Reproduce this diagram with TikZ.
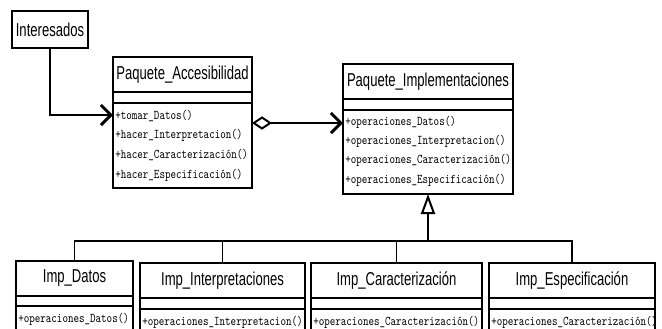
\documentclass[tikz,border=0pt]{standalone}
\usepackage{fontspec}
\usepackage{graphicx}
\setmainfont{Liberation Sans}
\usetikzlibrary{arrows.meta,calc}
\newcommand{\nm}[1]{\scalebox{0.7}[1]{#1}}
\newcommand{\opx}[1]{\scalebox{0.79}[1]{#1}}
\tikzset{
  classbox/.style={draw, line width=1.5pt, fill=white, inner sep=0pt, outer sep=0pt},
  cname/.style={font=\fontsize{14}{16}\selectfont, inner sep=0pt},
  op/.style={font=\ttfamily\fontsize{10}{11}\selectfont, anchor=west, inner sep=0pt},
  sepline/.style={line width=1.5pt},
  assoc/.style={line width=2.2pt, -{Straight Barb[length=7.5pt,width=15pt]}},
  aggr/.style={line width=2.2pt, {Diamond[open,fill=white,length=15pt,width=10pt,line width=1.5pt]}-{Straight Barb[length=7.5pt,width=15pt]}},
  genarrow/.style={line width=1.5pt, -{Triangle[open,fill=white,length=15pt,width=10.5pt,line width=1.5pt]}},
  genline/.style={line width=1.4pt},
}
\newcommand{\umlsep}[2]{\draw[sepline] ($(#1.north west)+(0,#2)$) -- ($(#1.north east)+(0,#2)$);}
\begin{document}
\begin{tikzpicture}[x=0.75pt,y=-0.75pt]
\useasboundingbox (0,0) rectangle (662,329);
\clip (0,0) rectangle (662,329);

% Interesados
\node[classbox, minimum width=57pt, minimum height=27.75pt] (int) at (50,29.5) {};
\node[cname] (intn) at (int.center) {\nm{Interesados}};

% Paquete_Accesibilidad
\node[classbox, minimum width=104.25pt, minimum height=98.25pt] (pa) at (182.5,122.5) {};
\node[cname] (pan) at ($(pa.north)+(0,17.5)$) {\nm{Paquete\_Accesibilidad}};
\umlsep{pa}{35}
\umlsep{pa}{46}
\node[op] (pa1) at ($(pa.north west)+(2,59)$) {\opx{+tomar\_Datos()}};
\node[op] (pa2) at ($(pa.north west)+(2,78)$) {\opx{+hacer\_Interpretacion()}};
\node[op] (pa3) at ($(pa.north west)+(2,98)$) {\opx{+hacer\_Caracterización()}};
\node[op] (pa4) at ($(pa.north west)+(2,118)$) {\opx{+hacer\_Especificación()}};

% Paquete_Implementaciones
\node[classbox, minimum width=127.5pt, minimum height=97.5pt] (pi) at (428,129) {};
\node[cname] (pin) at ($(pi.north)+(0,17.5)$) {\nm{Paquete\_Implementaciones}};
\umlsep{pi}{35}
\umlsep{pi}{46}
\node[op] (pi1) at ($(pi.north west)+(2,58)$) {\opx{+operaciones\_Datos()}};
\node[op] (pi2) at ($(pi.north west)+(2,77)$) {\opx{+operaciones\_Interpretacion()}};
\node[op] (pi3) at ($(pi.north west)+(2,96)$) {\opx{+operaciones\_Caracterización()}};
\node[op] (pi4) at ($(pi.north west)+(2,116)$) {\opx{+operaciones\_Especificación()}};

% Imp_Datos
\node[classbox, minimum width=87.75pt, minimum height=63pt] (id) at (74.5,303) {};
\node[cname] (idn) at ($(id.north)+(0,17.5)$) {\nm{Imp\_Datos}};
\umlsep{id}{35}
\umlsep{id}{45}
\node[op] (id1) at ($(id.north west)+(2,58)$) {\opx{+operaciones\_Datos()}};

% Imp_Interpretaciones
\node[classbox, minimum width=123.75pt, minimum height=61.5pt] (ii) at (222.5,304) {};
\node[cname] (iin) at ($(ii.north)+(0,18)$) {\nm{Imp\_Interpretaciones}};
\umlsep{ii}{35}
\umlsep{ii}{46}
\node[op] (ii1) at ($(ii.north west)+(2,59)$) {\opx{+operaciones\_Interpretacion()}};

% Imp_Caracterizacion
\node[classbox, minimum width=128.25pt, minimum height=61.5pt] (ic) at (396.5,304) {};
\node[cname] (icn) at ($(ic.north)+(0,18)$) {\nm{Imp\_Caracterización}};
\umlsep{ic}{35}
\umlsep{ic}{46}
\node[op] (ic1) at ($(ic.north west)+(2,59)$) {\opx{+operaciones\_Caracterización()}};

% Imp_Especificacion
\node[classbox, minimum width=124.5pt, minimum height=61.5pt] (ie) at (572,304) {};
\node[cname] (ien) at ($(ie.north)+(0,18)$) {\nm{Imp\_Especificación}};
\umlsep{ie}{35}
\umlsep{ie}{46}
\node[op] (ie1) at ($(ie.north west)+(2,59)$) {\opx{+operaciones\_Caracterización()}};

% connectors
\coordinate (pain) at ($(pa.north west)+(0,58)$);
\draw[assoc] (int.south) |- (pain);

\coordinate (pagg) at ($(pa.north east)+(0,66)$);
\coordinate (piagg) at ($(pi.north west)+(0,59)$);
\draw[aggr] (pagg) -- (piagg);

\coordinate (gj) at ($(pi.south)+(0,47)$);
\draw[genarrow] (gj) -- (pi.south);
\draw[genline] (id.north) |- (gj) -| (ie.north);
\draw[genline] (ii.north) |- (gj);
\draw[genline] (ic.north) |- (gj);
\end{tikzpicture}
\end{document}
